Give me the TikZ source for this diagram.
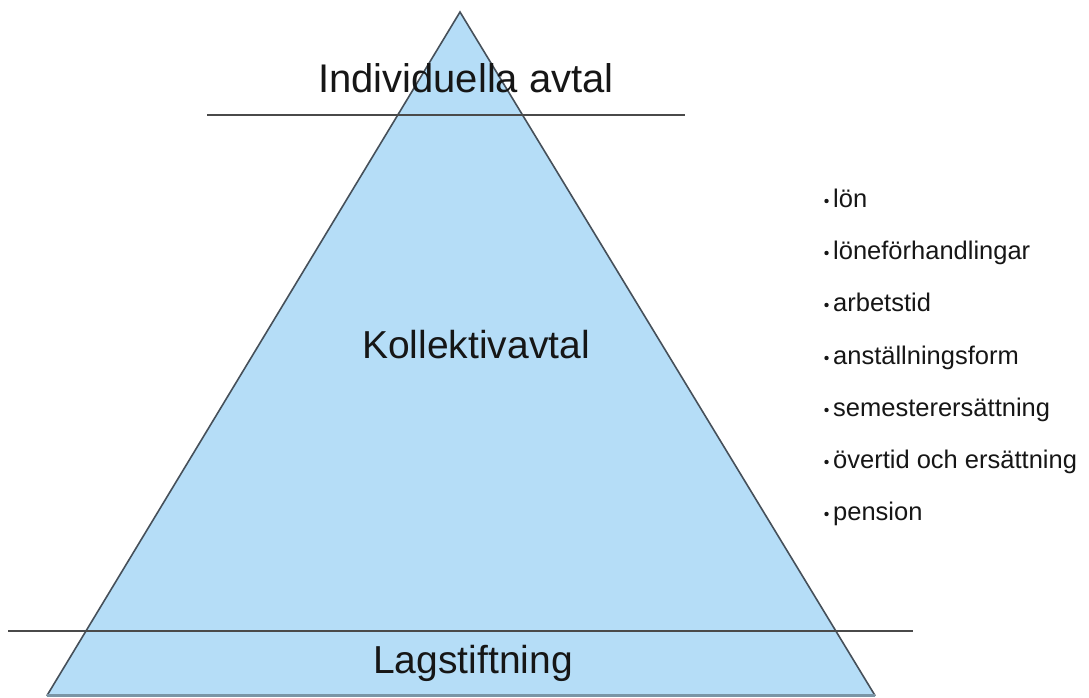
\documentclass[tikz,border=0pt]{standalone}
\usepackage{fontspec}
\setmainfont{Liberation Sans}
\definecolor{pyrfill}{HTML}{B5DDF7}
\definecolor{pyredge}{HTML}{46505A}
\definecolor{baseedge}{HTML}{7A95A6}
\definecolor{sepline}{HTML}{4A4A4A}
\definecolor{txt}{HTML}{161616}
\begin{document}
\begin{tikzpicture}[x=1pt,y=-1pt,
  heading/.style={anchor=base,inner sep=0pt,text=txt,font=\fontsize{40}{48}\selectfont},
  item/.style={anchor=base west,inner sep=0pt,text=txt,font=\fontsize{25.5}{30}\selectfont},
  bulletdot/.style={fill=txt},
  separator/.style={draw=sepline,line width=2pt}]
\useasboundingbox (0,0) rectangle (1089,698);
\fill[white] (0,0) rectangle (1089,698);
\coordinate (apex) at (460,12);
\coordinate (bl) at (47,695.5);
\coordinate (br) at (875,695.5);
\path[fill=pyrfill] (bl) -- (apex) -- (br) -- cycle;
\draw[pyredge,line width=1.6pt,line cap=round] (bl) -- (apex) -- (br);
\draw[baseedge,line width=3pt] (bl) -- (br);
\coordinate (t1) at (207,115);
\coordinate (t2) at (685,115);
\coordinate (b1) at (8,631);
\coordinate (b2) at (913,631);
\draw[separator] (t1) -- (t2);
\draw[separator] (b1) -- (b2);
\node[heading] (ind) at (466,93) {Individuella avtal};
\node[heading,font=\fontsize{39}{47}\selectfont] (kol) at (476,358) {Kollektivavtal};
\node[heading,font=\fontsize{39}{47}\selectfont] (lag) at (473,673) {Lagstiftning};
\foreach \n/\y/\t in {1/207/lön, 2/259/löneförhandlingar, 3/311/arbetstid, 4/364/anställningsform, 5/416/semesterersättning, 6/468/övertid och ersättning, 7/520/pension}{
  \fill[bulletdot] (826.5,\y-6) circle (2.2);
  \node[item] (i\n) at (833,\y) {\t};
}
\end{tikzpicture}
\end{document}
